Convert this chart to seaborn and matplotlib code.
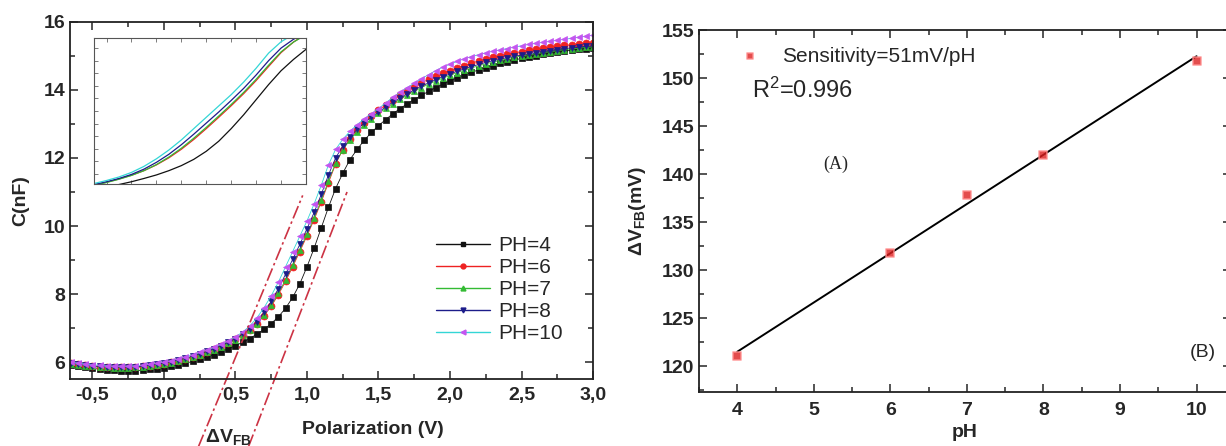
import numpy as np
import matplotlib
matplotlib.use("Agg")
import matplotlib.pyplot as plt
import seaborn as sns
from matplotlib.ticker import MultipleLocator, FuncFormatter, NullFormatter
from matplotlib.lines import Line2D

# C-V curves (bias from -0.65 V to 3.0 V, 0.05 V apart)
voltage = np.round(np.arange(-0.65, 3.0001, 0.05), 2)

c_ph4 = [5.90, 5.87, 5.84, 5.81, 5.79, 5.77, 5.76, 5.75, 5.75, 5.75,
         5.76, 5.78, 5.80, 5.83, 5.87, 5.91, 5.96, 6.02, 6.08, 6.15,
         6.22, 6.30, 6.39, 6.48, 6.58, 6.69, 6.82, 6.96, 7.13, 7.33,
         7.58, 7.90, 8.30, 8.80, 9.35, 9.95, 10.55, 11.10, 11.55, 11.95,
         12.25, 12.52, 12.75, 12.95, 13.13, 13.30, 13.45, 13.59, 13.72, 13.84,
         13.96, 14.07, 14.17, 14.27, 14.36, 14.44, 14.52, 14.59, 14.66, 14.72,
         14.78, 14.83, 14.88, 14.93, 14.97, 15.01, 15.05, 15.08, 15.11, 15.14,
         15.17, 15.20, 15.22, 15.24]
c_ph6 = [5.96, 5.93, 5.90, 5.88, 5.86, 5.85, 5.84, 5.84, 5.84, 5.85,
         5.87, 5.89, 5.92, 5.95, 5.99, 6.04, 6.09, 6.15, 6.22, 6.29,
         6.37, 6.46, 6.56, 6.67, 6.80, 6.95, 7.13, 7.36, 7.64, 7.98,
         8.37, 8.80, 9.25, 9.71, 10.19, 10.71, 11.27, 11.82, 12.24, 12.56,
         12.82, 13.04, 13.23, 13.40, 13.56, 13.71, 13.85, 13.98, 14.10, 14.21,
         14.31, 14.40, 14.49, 14.57, 14.65, 14.72, 14.79, 14.85, 14.91, 14.96,
         15.01, 15.05, 15.09, 15.13, 15.17, 15.20, 15.23, 15.26, 15.29, 15.31,
         15.33, 15.35, 15.37, 15.39]
c_ph7 = [5.95, 5.92, 5.89, 5.87, 5.85, 5.84, 5.83, 5.83, 5.83, 5.84,
         5.86, 5.88, 5.91, 5.94, 5.98, 6.03, 6.08, 6.14, 6.21, 6.28,
         6.36, 6.45, 6.55, 6.66, 6.79, 6.94, 7.13, 7.37, 7.67, 8.02,
         8.42, 8.85, 9.30, 9.76, 10.24, 10.76, 11.32, 11.85, 12.24, 12.53,
         12.77, 12.97, 13.15, 13.31, 13.46, 13.60, 13.73, 13.85, 13.96, 14.07,
         14.17, 14.26, 14.35, 14.43, 14.51, 14.58, 14.65, 14.71, 14.77, 14.82,
         14.87, 14.92, 14.96, 15.00, 15.04, 15.07, 15.10, 15.13, 15.16, 15.19,
         15.21, 15.23, 15.25, 15.27]
c_ph8 = [5.97, 5.94, 5.91, 5.89, 5.87, 5.86, 5.85, 5.85, 5.85, 5.86,
         5.88, 5.90, 5.93, 5.97, 6.01, 6.06, 6.11, 6.17, 6.24, 6.31,
         6.39, 6.48, 6.58, 6.69, 6.82, 6.98, 7.19, 7.46, 7.78, 8.16,
         8.58, 9.02, 9.46, 9.92, 10.40, 10.93, 11.50, 12.00, 12.35, 12.62,
         12.84, 13.03, 13.20, 13.35, 13.50, 13.64, 13.77, 13.89, 14.00, 14.11,
         14.21, 14.30, 14.39, 14.47, 14.55, 14.62, 14.69, 14.75, 14.81, 14.86,
         14.91, 14.95, 14.99, 15.03, 15.07, 15.10, 15.13, 15.16, 15.19, 15.22,
         15.24, 15.26, 15.28, 15.30]
c_ph10 = [6.00, 5.97, 5.94, 5.92, 5.90, 5.89, 5.88, 5.88, 5.88, 5.89,
          5.91, 5.93, 5.96, 6.00, 6.04, 6.09, 6.15, 6.21, 6.28, 6.35,
          6.43, 6.52, 6.62, 6.74, 6.88, 7.06, 7.30, 7.60, 7.95, 8.35,
          8.80, 9.25, 9.70, 10.15, 10.65, 11.20, 11.80, 12.25, 12.55, 12.78,
          12.98, 13.15, 13.30, 13.45, 13.62, 13.78, 13.93, 14.07, 14.20, 14.33,
          14.45, 14.57, 14.67, 14.76, 14.84, 14.92, 14.98, 15.04, 15.09, 15.14,
          15.18, 15.22, 15.26, 15.30, 15.34, 15.37, 15.40, 15.43, 15.46, 15.49,
          15.52, 15.55, 15.58, 15.61]

ph_labels = ["PH=4", "PH=6", "PH=7", "PH=8", "PH=10"]
line_colors = ["#111111", "#ee2222", "#33bb33", "#1c1c8a", "#33d6d6"]
marker_colors = ["#111111", "#ee2222", "#33bb33", "#1c1c8a", "#c455f0"]
marker_shapes = ["s", "o", "^", "v", "<"]
curves = [c_ph4, c_ph6, c_ph7, c_ph8, c_ph10]

# the two red tangent lines
tangent_left_v = [0.24, 0.97]
tangent_left_c = [3.5, 10.9]
tangent_right_v = [0.59, 1.28]
tangent_right_c = [3.5, 11.0]

# flat-band shift vs pH
ph = [4, 6, 7, 8, 10]
dv_fb = [121.0, 131.8, 137.8, 142.0, 151.8]

sns.set_style("ticks")
plt.rcParams["font.family"] = ["Liberation Sans", "DejaVu Sans"]
plt.rcParams["mathtext.fontset"] = "custom"
plt.rcParams["mathtext.rm"] = "Liberation Sans"
plt.rcParams["mathtext.bf"] = "Liberation Sans:bold"
plt.rcParams["mathtext.it"] = "Liberation Sans:italic"

fig = plt.figure(figsize=(12.26, 4.46), dpi=100)
ax1 = fig.add_axes([0.0571, 0.1502, 0.4266, 0.8005])
ax2 = fig.add_axes([0.5701, 0.1211, 0.434, 0.8116])
axin = fig.add_axes([0.0767, 0.5874, 0.1729, 0.3274])

# ---- left: C-V curves ----
for c, lab, lc, mc, mk in zip(curves, ph_labels, line_colors, marker_colors, marker_shapes):
    sns.lineplot(x=voltage, y=c, ax=ax1, color=lc, lw=0.6, marker=mk, markersize=5,
                 markerfacecolor=mc, markeredgecolor=mc, markeredgewidth=0.5, label=lab)

for tv, tc in [(tangent_left_v, tangent_left_c), (tangent_right_v, tangent_right_c)]:
    ax1.plot(tv, tc, color="#cc3344", lw=1.2, ls=(0, (8, 2, 1.5, 2)), clip_on=False)

ax1.text(0.29, 3.78, r"$\mathbf{\Delta V}_{\mathbf{FB}}$", fontsize=14, ha="left", va="center",
         clip_on=False)

ax1.set_xlim(-0.657, 3.0)
ax1.set_ylim(5.5, 16)
ax1.xaxis.set_major_locator(MultipleLocator(0.5))
ax1.xaxis.set_minor_locator(MultipleLocator(0.25))
ax1.yaxis.set_major_locator(MultipleLocator(2))
ax1.yaxis.set_minor_locator(MultipleLocator(1))
ax1.xaxis.set_major_formatter(FuncFormatter(lambda v, p: f"{v:.1f}".replace(".", ",")))
ax1.set_xlabel("Polarization (V)", fontsize=14, fontweight="bold")
ax1.set_ylabel("C(nF)", fontsize=14, fontweight="bold")
ax1.xaxis.set_label_coords(0.58, -0.118)
ax1.yaxis.set_label_coords(-0.077, 0.5)

handles = [Line2D([], [], color=lc, lw=1.0, marker=mk, markersize=3.5,
                  markerfacecolor=mc, markeredgecolor=mc)
           for lc, mc, mk in zip(line_colors, marker_colors, marker_shapes)]
ax1.legend(handles, ph_labels, loc="lower left", bbox_to_anchor=(0.70, 0.1), frameon=False,
           fontsize=15, handlelength=2.6, handletextpad=0.4, labelspacing=0.15,
           borderaxespad=0, borderpad=0)

# inset: zoom on the transition, lines only
for c, lc in zip(curves, line_colors):
    sns.lineplot(x=voltage, y=c, ax=axin, color=lc, lw=0.9)
axin.set_xlim(0.45, 1.3)
axin.set_ylim(6.6, 12.4)
axin.xaxis.set_major_locator(MultipleLocator(0.2))
axin.xaxis.set_minor_locator(MultipleLocator(0.1))
axin.yaxis.set_major_locator(MultipleLocator(1))
axin.yaxis.set_minor_locator(MultipleLocator(0.5))
axin.xaxis.set_major_formatter(NullFormatter())
axin.yaxis.set_major_formatter(NullFormatter())
axin.tick_params(which="both", direction="in", top=True, right=True, length=3, width=0.6,
                 color="#666666")
for s in axin.spines.values():
    s.set_linewidth(0.8)
    s.set_color("#555555")

# ---- right: dV_FB vs pH ----
sns.regplot(x=ph, y=dv_fb, ax=ax2, ci=None, truncate=True, marker="s",
            label="Sensitivity=51mV/pH",
            scatter_kws=dict(s=30, facecolor="#dd2020", edgecolor="#ff9090", linewidths=1.2,
                             zorder=3),
            line_kws=dict(color="black", lw=1.4, zorder=2))
ax2.set_xlim(3.5, 10.45)
ax2.set_ylim(117.3, 155)
ax2.xaxis.set_major_locator(MultipleLocator(1))
ax2.xaxis.set_minor_locator(MultipleLocator(0.5))
ax2.yaxis.set_major_locator(MultipleLocator(5))
ax2.yaxis.set_minor_locator(MultipleLocator(2.5))
ax2.set_xlabel("pH", fontsize=14, fontweight="bold")
ax2.set_ylabel(r"$\mathbf{\Delta V}_{\mathbf{FB}}\mathbf{(mV)}$", fontsize=14)
ax2.xaxis.set_label_coords(0.5, -0.088)
ax2.yaxis.set_label_coords(-0.095, 0.5)
ax2.legend(loc="center left", bbox_to_anchor=(0.077, 0.928), frameon=False, fontsize=15,
           handlelength=1.0, handletextpad=1.0, borderaxespad=0, borderpad=0, markerscale=0.9)
ax2.text(0.0994, 0.833, r"R$^2$=0.996", transform=ax2.transAxes, fontsize=17, va="center")
ax2.text(0.257, 0.63, "(A)", transform=ax2.transAxes, fontsize=13, ha="center", va="center",
         family="Liberation Serif")
ax2.text(0.947, 0.108, "(B)", transform=ax2.transAxes, fontsize=14, ha="center", va="center")

for ax, xpad in ((ax1, 6), (ax2, 7)):
    ax.tick_params(which="both", direction="in", top=True, right=True, width=1.1)
    ax.tick_params(which="major", length=6, labelsize=14)
    ax.tick_params(which="minor", length=3.5)
    ax.tick_params(axis="x", which="major", pad=xpad)
    for lbl in ax.get_xticklabels() + ax.get_yticklabels():
        lbl.set_fontweight("bold")
    for s in ax.spines.values():
        s.set_linewidth(1.3)
        s.set_color("#222222")

fig.savefig("out.png", dpi=100)
